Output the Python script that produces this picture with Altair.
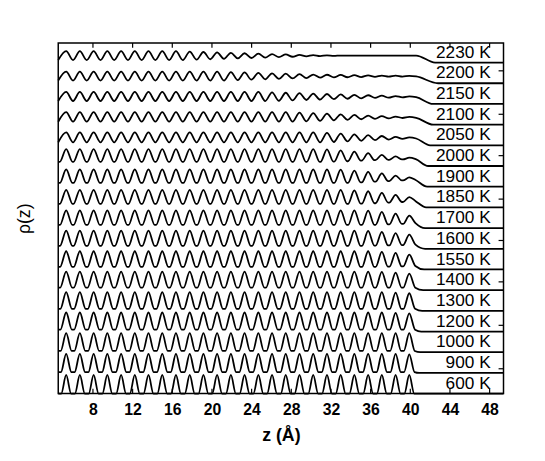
import altair as alt
import pandas as pd

# ---------------- data ----------------
temps = ["600 K", "900 K", "1000 K", "1200 K", "1300 K", "1400 K", "1550 K", "1600 K",
         "1700 K", "1850 K", "1900 K", "2000 K", "2050 K", "2100 K", "2150 K", "2200 K", "2230 K"]
offsets = list(range(17))  # vertical stacking of the profiles

# positions of the density peaks (layers) in z (Angstrom)
peak_z = [5.30, 6.68, 8.07, 9.45, 10.84, 12.22, 13.60, 14.99, 16.37, 17.76, 19.14, 20.52, 21.91,
          23.29, 24.68, 26.06, 27.44, 28.83, 30.21, 31.60, 32.98, 34.36, 35.75, 37.13, 38.52, 39.90]
layer_d = 1.384

z_left = 4.5
z_right = 49.4

peaks = {
    "600 K":  [0.90] * 26,
    "900 K":  [0.92] * 25 + [0.90],
    "1000 K": [0.92] * 26,
    "1200 K": [0.92] * 24 + [0.90, 0.88],
    "1300 K": [0.90] * 24 + [0.88, 0.85],
    "1400 K": [0.90] * 23 + [0.88, 0.85, 0.80],
    "1550 K": [0.88] * 23 + [0.85, 0.80, 0.72],
    "1600 K": [0.88] * 22 + [0.86, 0.82, 0.76, 0.68],
    "1700 K": [0.86] * 22 + [0.84, 0.78, 0.70, 0.60],
    "1850 K": [0.85] * 21 + [0.82, 0.78, 0.70, 0.60, 0.50],
    "1900 K": [0.84] * 20 + [0.82, 0.78, 0.72, 0.64, 0.54, 0.45],
    "2000 K": [0.82] * 19 + [0.80, 0.76, 0.70, 0.62, 0.54, 0.46, 0.40],
    "2050 K": [0.62] * 19 + [0.60, 0.57, 0.53, 0.49, 0.45, 0.41, 0.38],
    "2100 K": [0.60] * 17 + [0.58, 0.56, 0.53, 0.50, 0.47, 0.44, 0.41, 0.39, 0.37],
    "2150 K": [0.58] * 15 + [0.56, 0.54, 0.52, 0.50, 0.48, 0.46, 0.44, 0.42, 0.40, 0.38, 0.37],
    "2200 K": [0.56] * 12 + [0.54, 0.52, 0.50, 0.48, 0.46, 0.44, 0.42, 0.41, 0.40, 0.39, 0.38, 0.37, 0.37, 0.36],
    "2230 K": [0.55] * 9 + [0.53, 0.51, 0.49, 0.47, 0.45, 0.43, 0.41, 0.39, 0.37, 0.36, 0.35, 0.34, 0.34, 0.34, 0.34, 0.34, 0.34],
}
troughs = {
    "600 K":  [0.00] * 26,
    "900 K":  [0.04] * 26,
    "1000 K": [0.06] * 26,
    "1200 K": [0.09] * 26,
    "1300 K": [0.10] * 26,
    "1400 K": [0.12] * 26,
    "1550 K": [0.13] * 23 + [0.14, 0.15, 0.17],
    "1600 K": [0.14] * 22 + [0.15, 0.16, 0.18, 0.20],
    "1700 K": [0.15] * 22 + [0.16, 0.18, 0.20, 0.24],
    "1850 K": [0.17] * 21 + [0.18, 0.20, 0.23, 0.26, 0.30],
    "1900 K": [0.18] * 20 + [0.19, 0.21, 0.24, 0.27, 0.30, 0.32],
    "2000 K": [0.20] * 19 + [0.21, 0.23, 0.26, 0.28, 0.30, 0.32, 0.33],
    "2050 K": [0.14] * 19 + [0.16, 0.19, 0.22, 0.25, 0.28, 0.31, 0.33],
    "2100 K": [0.14] * 17 + [0.16, 0.18, 0.21, 0.23, 0.26, 0.28, 0.30, 0.32, 0.33],
    "2150 K": [0.14] * 15 + [0.15, 0.17, 0.19, 0.21, 0.23, 0.25, 0.27, 0.29, 0.30, 0.32, 0.33],
    "2200 K": [0.13] * 12 + [0.15, 0.17, 0.19, 0.21, 0.23, 0.25, 0.27, 0.28, 0.29, 0.30, 0.31, 0.32, 0.32, 0.33],
    "2230 K": [0.12] * 9 + [0.14, 0.16, 0.18, 0.20, 0.22, 0.24, 0.26, 0.28, 0.30, 0.31, 0.32, 0.33, 0.34, 0.34, 0.34, 0.34, 0.34],
}
# fraction of the layer spacing where a peak meets its flat trough (None = smooth wave)
shoulder = {
    "600 K": 0.36, "900 K": 0.38, "1000 K": 0.40, "1200 K": 0.42, "1300 K": 0.42, "1400 K": 0.44,
    "1550 K": 0.44, "1600 K": 0.45, "1700 K": 0.45, "1850 K": 0.46, "1900 K": 0.46, "2000 K": 0.47,
    "2050 K": None, "2100 K": None, "2150 K": None, "2200 K": None, "2230 K": None,
}
# z where the density has dropped to zero at the surface
surf_end = {
    "600 K": 40.8, "900 K": 40.9, "1000 K": 41.0, "1200 K": 41.1, "1300 K": 41.2, "1400 K": 41.3,
    "1550 K": 41.4, "1600 K": 41.5, "1700 K": 41.5, "1850 K": 41.6, "1900 K": 41.7, "2000 K": 41.8,
    "2050 K": 42.0, "2100 K": 42.3, "2150 K": 42.3, "2200 K": 42.8, "2230 K": 42.5,
}

y_ticks = [1.2, 3.3, 5.4, 7.4, 9.4, 11.5, 13.5, 15.6]
x_ticks = [8, 12, 16, 20, 24, 28, 32, 36, 40, 44, 48]

# ---------------- build the line table ----------------
rows = []
for t, off in zip(temps, offsets):
    pk, tr, s = peaks[t], troughs[t], shoulder[t]
    pts = [(z_left, tr[0])]
    for k, pz in enumerate(peak_z):
        prev_t = tr[k - 1] if k > 0 else tr[0]
        if s is not None:
            pts.append((pz - s * layer_d, prev_t))
        pts.append((pz, pk[k]))
        if s is not None:
            pts.append((pz + s * layer_d, tr[k]))
        elif k < len(peak_z) - 1:
            pts.append((pz + 0.5 * layer_d, tr[k]))
    if s is None:
        pts.append((peak_z[-1] + 0.5 * layer_d, tr[-1]))
    pts.append((surf_end[t], 0.0))
    pts.append((z_right, 0.0))
    for i, (z, v) in enumerate(pts):
        rows.append({"T": t, "idx": i, "z": z, "rho": off + v})
df = pd.DataFrame(rows)

lab = pd.DataFrame({"T": temps, "off": offsets, "zl": [48.1] * len(temps)})
xt = pd.DataFrame({"z": x_ticks})
yt = pd.DataFrame({"y": y_ticks})

FONT = "Liberation Sans"
W, H = 452, 356
xs = alt.Scale(domain=[z_left, z_right], nice=False, zero=False)
ys = alt.Scale(domain=[0, 16.95], nice=False, zero=False)

lines = alt.Chart(df).mark_line(interpolate="monotone", color="black", strokeWidth=1.8).encode(
    x=alt.X("z:Q", scale=xs, axis=alt.Axis(values=x_ticks, title="z (Å)", labelFont=FONT,
                                           labelFontWeight="bold", labelFontSize=16, labelColor="black",
                                           titleFont=FONT, titleFontWeight="bold", titleFontSize=18,
                                           titleColor="black", domain=False, ticks=False,
                                           labelPadding=8, titlePadding=10, grid=False)),
    y=alt.Y("rho:Q", scale=ys, axis=alt.Axis(title="ρ(z)", labels=False, ticks=False, domain=False,
                                             grid=False, titleFont=FONT, titleFontWeight="normal",
                                             titleFontSize=18, titleColor="black", titleX=-34,
                                             titleBaseline="middle")),
    detail="T:N",
    order="idx:Q",
)

labels = alt.Chart(lab).mark_text(align="right", baseline="bottom", dy=-1, font=FONT,
                                  fontSize=17.5, color="black").encode(
    x=alt.X("zl:Q", scale=xs), y=alt.Y("off:Q", scale=ys), text="T:N")

top_ticks = alt.Chart(xt).mark_rule(color="black", strokeWidth=1.2).encode(
    x=alt.X("z:Q", scale=xs), y=alt.value(0), y2=alt.value(5))
bot_ticks = alt.Chart(xt).mark_rule(color="black", strokeWidth=1.2).encode(
    x=alt.X("z:Q", scale=xs), y=alt.value(H - 5), y2=alt.value(H))
right_ticks = alt.Chart(yt).mark_rule(color="black", strokeWidth=1.2).encode(
    y=alt.Y("y:Q", scale=ys), x=alt.value(W - 5), x2=alt.value(W))

chart = alt.layer(lines, labels, top_ticks, bot_ticks, right_ticks).properties(
    width=W, height=H, autosize="none",
    padding={"left": 51, "top": 32, "right": 34, "bottom": 65},
    background="white",
).configure_view(stroke="black", strokeWidth=1.5)

chart.save("out.html", embed_options={"renderer": "svg", "actions": False})
